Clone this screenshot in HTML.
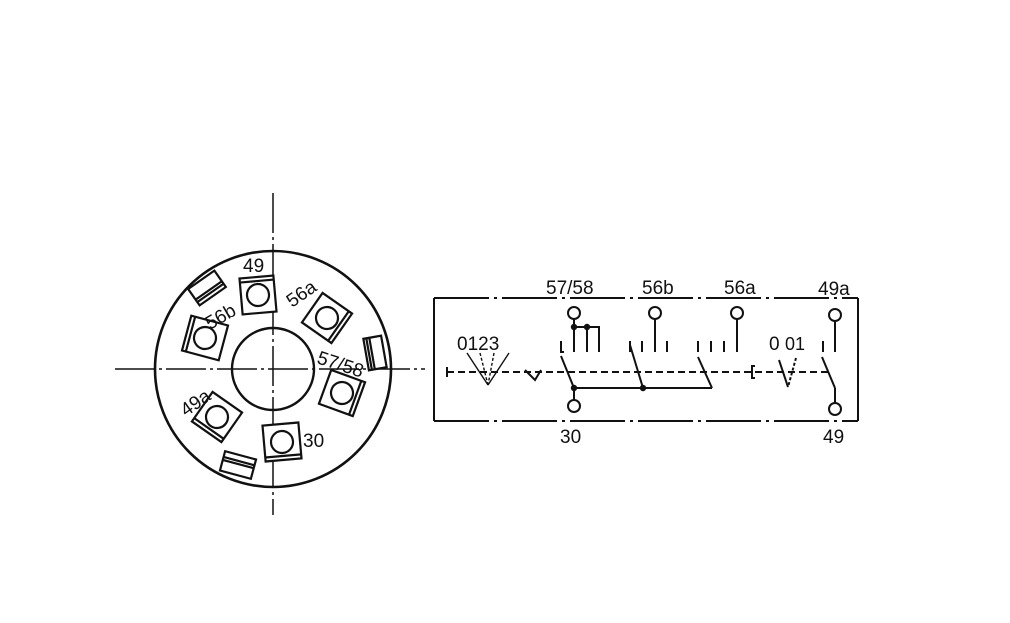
<!DOCTYPE html>
<html><head><style>
html,body{margin:0;padding:0;background:#fff;}
svg{display:block;}
text{font-family:"Liberation Sans",sans-serif;fill:#111;}
</style></head><body>
<svg width="1010" height="623" viewBox="0 0 1010 623" xmlns="http://www.w3.org/2000/svg">
<g stroke="#111" fill="none" stroke-width="2.2">
<line x1="273" y1="193" x2="273" y2="515" stroke-width="1.5" stroke-dasharray="40,4,3,4"/>
<line x1="115" y1="369" x2="425" y2="369" stroke-width="1.5" stroke-dasharray="40,4,3,4"/>
<circle cx="273" cy="369" r="118" stroke-width="2.6"/>
<circle cx="273" cy="369" r="41" stroke-width="2.4"/>
<g transform="translate(258,295) rotate(-5)"><rect x="-17" y="-18" width="34" height="36" fill="#fff"/><line x1="-17" y1="-14" x2="17" y2="-14"/><circle r="11"/></g>
<g transform="translate(327,318) rotate(35)"><rect x="-18" y="-18" width="36" height="36" fill="#fff"/><line x1="14" y1="-18" x2="14" y2="18"/><circle r="11"/></g>
<g transform="translate(205,338) rotate(15)"><rect x="-19" y="-18" width="38" height="36" fill="#fff"/><line x1="-15" y1="-18" x2="-15" y2="18"/><circle r="11"/></g>
<g transform="translate(342,393) rotate(20)"><rect x="-18" y="-18" width="36" height="36" fill="#fff"/><line x1="14" y1="-18" x2="14" y2="18"/><circle r="11"/></g>
<g transform="translate(217,417) rotate(35)"><rect x="-18" y="-18" width="36" height="36" fill="#fff"/><line x1="-18" y1="14" x2="18" y2="14"/><circle r="11"/></g>
<g transform="translate(282,442) rotate(-5)"><rect x="-18" y="-18" width="36" height="36" fill="#fff"/><line x1="-18" y1="14" x2="18" y2="14"/><circle r="11"/></g>
<g transform="translate(207,288) rotate(-35)"><rect x="-16" y="-10" width="32" height="20" fill="#fff"/><line x1="-16" y1="3" x2="16" y2="3"/><line x1="-16" y1="6" x2="16" y2="6"/></g>
<g transform="translate(375,353) rotate(80)"><rect x="-16" y="-9" width="32" height="18" fill="#fff"/><line x1="-16" y1="3" x2="16" y2="3"/><line x1="-16" y1="6" x2="16" y2="6"/></g>
<g transform="translate(238,465) rotate(15)"><rect x="-16" y="-10" width="32" height="20" fill="#fff"/><line x1="-16" y1="-4" x2="16" y2="-4"/><line x1="-16" y1="-1" x2="16" y2="-1"/></g>
</g>
<g font-size="19">
<text x="243" y="272">49</text>
<text x="0" y="0" transform="translate(210,330) rotate(-30)">56b</text>
<text x="0" y="0" transform="translate(292,308) rotate(-35)">56a</text>
<text x="0" y="0" transform="translate(316,363) rotate(18)">57/58</text>
<text x="0" y="0" transform="translate(186,417) rotate(-35)">49a</text>
<text x="303" y="447">30</text>
</g>
<g stroke="#111" fill="none" stroke-width="2">
<line x1="434" y1="298" x2="858" y2="298" stroke-dasharray="55,5,3,5"/>
<line x1="434" y1="421" x2="858" y2="421" stroke-dasharray="55,5,3,5"/>
<line x1="434" y1="298" x2="434" y2="421"/>
<line x1="858" y1="298" x2="858" y2="421"/>
<line x1="447" y1="372" x2="830" y2="372" stroke-dasharray="7,4"/>
<line x1="447" y1="367" x2="447" y2="377"/>
<g stroke-width="1.4"><line x1="467" y1="353" x2="488" y2="385"/><line x1="480" y1="353" x2="488" y2="385" stroke-dasharray="3,2"/><line x1="494" y1="353" x2="488" y2="385" stroke-dasharray="3,2"/><line x1="509" y1="353" x2="488" y2="385"/></g>
<path d="M525 370 L535 380 L541 370"/>
<circle cx="574" cy="313" r="6"/><circle cx="655" cy="313" r="6"/><circle cx="737" cy="313" r="6"/><circle cx="835" cy="315" r="6"/>
<circle cx="574" cy="406" r="6"/><circle cx="835" cy="409" r="6"/>
<line x1="574" y1="319" x2="574" y2="352"/>
<polyline points="574,327 599,327 599,352"/>
<line x1="587" y1="327" x2="587" y2="352"/>
<polyline points="561,341 561,352 564,352"/>
<line x1="630" y1="341" x2="630" y2="352"/><line x1="642" y1="341" x2="642" y2="352"/>
<line x1="655" y1="319" x2="655" y2="352"/><line x1="667" y1="341" x2="667" y2="352"/>
<line x1="698" y1="341" x2="698" y2="352"/><line x1="711" y1="341" x2="711" y2="352"/><line x1="724" y1="341" x2="724" y2="352"/>
<line x1="737" y1="319" x2="737" y2="352"/>
<line x1="823" y1="341" x2="823" y2="352"/><line x1="835" y1="321" x2="835" y2="352"/>
<line x1="561" y1="356" x2="574" y2="388"/>
<line x1="574" y1="388" x2="574" y2="400"/>
<line x1="574" y1="388" x2="712" y2="388"/>
<line x1="630" y1="345" x2="643" y2="388"/>
<line x1="698" y1="357" x2="712" y2="388"/>
<path d="M755 366 L752 366 L752 378 L755 378"/>
<line x1="779" y1="360" x2="788" y2="387"/>
<line x1="796" y1="358" x2="788" y2="387" stroke-dasharray="3,2"/>
<line x1="822" y1="357" x2="835" y2="388"/><line x1="835" y1="388" x2="835" y2="403"/>
</g>
<g fill="#111"><circle cx="574" cy="327" r="3.2"/><circle cx="587" cy="327" r="3.2"/><circle cx="574" cy="388" r="3.2"/><circle cx="643" cy="388" r="3.2"/></g>
<g font-size="19">
<text x="546" y="294">57/58</text>
<text x="642" y="294">56b</text>
<text x="724" y="294">56a</text>
<text x="818" y="295">49a</text>
<text x="560" y="443">30</text>
<text x="823" y="443">49</text>
<text x="457" y="350">0123</text>
<text x="769" y="350">0</text>
<text x="785" y="350" font-size="18">01</text>
</g>
</svg>
</body></html>
